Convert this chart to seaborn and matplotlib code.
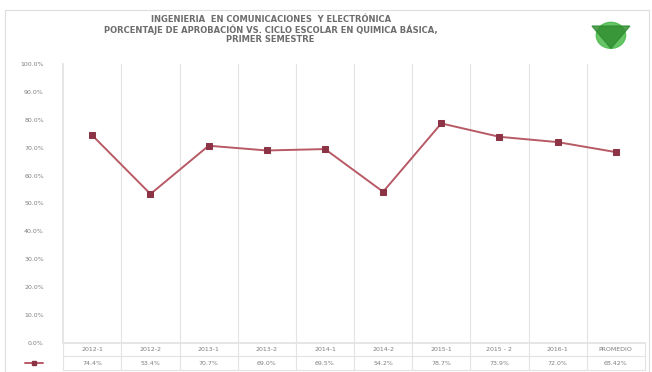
import numpy as np
import pandas as pd
import matplotlib
matplotlib.use('Agg')
import matplotlib.pyplot as plt
import matplotlib.patches as mpatches
import seaborn as sns

periodos = ['2012-1', '2012-2', '2013-1', '2013-2', '2014-1', '2014-2',
            '2015-1', '2015 - 2', '2016-1', 'PROMEDIO']
aprobacion = [74.4, 53.4, 70.7, 69.0, 69.5, 54.2, 78.7, 73.9, 72.0, 68.42]
etiquetas = ['74.4%', '53.4%', '70.7%', '69.0%', '69.5%', '54.2%',
             '78.7%', '73.9%', '72.0%', '68.42%']
titulo = ('INGENIERIA  EN COMUNICACIONES  Y ELECTRÓNICA\n'
          'PORCENTAJE DE APROBACIÓN VS. CICLO ESCOLAR EN QUIMICA BÁSICA,\n'
          'PRIMER SEMESTRE')

sns.set_theme(style='white')
plt.rcParams['font.family'] = ['DejaVu Sans']

df = pd.DataFrame({'x': np.arange(len(periodos)), 'y': aprobacion})

fig = plt.figure(figsize=(6.52, 3.72), dpi=100)
ax = fig.add_axes([0.097, 0.078, 0.892, 0.75])

linea = '#b85a66'
marca = '#8c3445'
sns.lineplot(data=df, x='x', y='y', ax=ax, color=linea, lw=1.4,
             marker='s', markersize=5, markerfacecolor=marca,
             markeredgecolor=marca, legend=False)

ax.set_xlim(-0.5, len(periodos) - 0.5)
ax.set_ylim(0, 100)
ax.set_yticks(np.arange(0, 101, 10))
ax.set_yticklabels([f'{v:.1f}%' for v in range(0, 101, 10)],
                   fontsize=4.5, color='#7f7f7f')
ax.tick_params(axis='y', length=0, pad=14)
ax.set_xticks([])
ax.set_xlabel('')
ax.set_ylabel('')

gris = '#e3e3e3'
for s in ['top', 'right']:
    ax.spines[s].set_visible(False)
ax.spines['left'].set_color(gris)
ax.spines['bottom'].set_color(gris)
for i in range(1, len(periodos)):
    ax.axvline(i - 0.5, color=gris, lw=0.8, zorder=0)

# data table under the plot
trans = ax.get_xaxis_transform()
for i, (p, e) in enumerate(zip(periodos, etiquetas)):
    ax.text(i, -0.022, p, transform=trans, ha='center', va='center',
            fontsize=4.5, color='#7f7f7f', clip_on=False)
    ax.text(i, -0.072, e, transform=trans, ha='center', va='center',
            fontsize=4.5, color='#7f7f7f', clip_on=False)
for yy in [-0.047, -0.097]:
    ax.plot([-0.5, len(periodos) - 0.5], [yy, yy], transform=trans,
            color=gris, lw=0.8, clip_on=False)
for i in range(len(periodos) + 1):
    ax.plot([i - 0.5, i - 0.5], [0, -0.097], transform=trans,
            color=gris, lw=0.8, clip_on=False)
ax.plot([-0.035, -0.065], [-0.072, -0.072], transform=ax.transAxes,
        color=linea, lw=1.4, clip_on=False)
ax.plot([-0.05], [-0.072], transform=ax.transAxes, marker='s',
        markersize=3.5, color=marca, clip_on=False)

fig.text(0.415, 0.92, titulo, ha='center', va='center', fontsize=6,
         fontweight='bold', color='#6d6d6d', linespacing=1.05)

# logo
fig.patches.append(mpatches.Ellipse((0.937, 0.905), 0.045, 0.07,
                                    transform=fig.transFigure,
                                    color='#4cbb4c', alpha=0.85))
fig.patches.append(mpatches.Polygon([[0.908, 0.93], [0.966, 0.93], [0.937, 0.87]],
                                    closed=True, transform=fig.transFigure,
                                    color='#2e8b2e', alpha=0.8))
fig.patches.append(mpatches.Rectangle((0.008, 0.0), 0.988, 0.972,
                                      transform=fig.transFigure, fill=False,
                                      ec='#dddddd', lw=0.8))

fig.savefig('out.png', dpi=100)
